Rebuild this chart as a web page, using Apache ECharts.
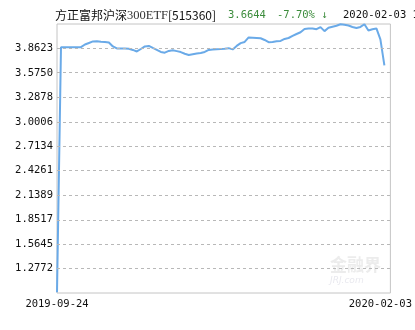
<!DOCTYPE html>
<html><head><meta charset="utf-8">
<script src="https://cdn.jsdelivr.net/npm/echarts@6/dist/echarts.min.js"></script>
<style>html,body{margin:0;padding:0;background:#fff}#c{width:415px;height:330px}</style>
</head><body><div id="c"></div>
<script>
const dates = [
'2019-09-24','2019-09-25','2019-09-26','2019-09-27','2019-09-30',
'2019-10-08','2019-10-09','2019-10-10','2019-10-11','2019-10-14','2019-10-15','2019-10-16','2019-10-17','2019-10-18','2019-10-21','2019-10-22','2019-10-23','2019-10-24','2019-10-25','2019-10-28','2019-10-29','2019-10-30','2019-10-31',
'2019-11-01','2019-11-04','2019-11-05','2019-11-06','2019-11-07','2019-11-08','2019-11-11','2019-11-12','2019-11-13','2019-11-14','2019-11-15','2019-11-18','2019-11-19','2019-11-20','2019-11-21','2019-11-22','2019-11-25','2019-11-26','2019-11-27','2019-11-28','2019-11-29',
'2019-12-02','2019-12-03','2019-12-04','2019-12-05','2019-12-06','2019-12-09','2019-12-10','2019-12-11','2019-12-12','2019-12-13','2019-12-16','2019-12-17','2019-12-18','2019-12-19','2019-12-20','2019-12-23','2019-12-24','2019-12-25','2019-12-26','2019-12-27','2019-12-30','2019-12-31',
'2020-01-02','2020-01-03','2020-01-06','2020-01-07','2020-01-08','2020-01-09','2020-01-10','2020-01-13','2020-01-14','2020-01-15','2020-01-16','2020-01-17','2020-01-20','2020-01-21','2020-01-22','2020-01-23',
'2020-02-03'];
const values = [
1.0000,3.877,3.877,3.877,3.877,3.877,3.877,3.909,3.927,3.945,
3.948,3.941,3.939,3.933,3.886,3.862,3.862,3.862,3.859,3.845,
3.827,3.856,3.886,3.892,3.868,3.845,3.821,3.813,3.833,3.840,
3.831,3.820,3.800,3.786,3.795,3.804,3.809,3.821,3.845,3.851,
3.854,3.856,3.859,3.866,3.851,3.892,3.925,3.939,3.992,3.989,
3.986,3.982,3.962,3.936,3.939,3.948,3.951,3.974,3.985,4.009,
4.032,4.053,4.091,4.097,4.096,4.088,4.113,4.066,4.105,4.118,
4.129,4.147,4.140,4.132,4.115,4.102,4.115,4.147,4.074,4.088,
4.097,3.970,3.6644];
const yTicks = [1.2772,1.5645,1.8517,2.1389,2.4261,2.7134,3.0006,3.2878,3.5750,3.8623];
const yMin = 0.99, yMax = 4.1495;
const fundName = '方正富邦沪深', fundCode = '300ETF', fundId = '[515360]';
const lastPrice = '3.6644', changePct = '-7.70% ↓', lastDate = '2020-02-03 1';

const chart = echarts.init(document.getElementById('c'), null, {renderer:'canvas'});
const mono = '"DejaVu Sans Mono", monospace';
chart.setOption({
  animation:false,
  grid:{left:57, right:23, top:24, bottom:37, show:true, borderColor:'#c4c4c4', borderWidth:1},
  xAxis:{type:'value', min:0, max:83.5,
    axisLine:{show:false}, axisTick:{show:false}, splitLine:{show:false},
    axisLabel:{customValues:[0, dates.length-1], color:'#111', fontFamily:mono, fontSize:10.5, margin:6,
      formatter:(v)=> v===0 ? dates[0] : '{r|'+dates[dates.length-1]+'}',
      rich:{r:{fontFamily:mono, fontSize:10.5, color:'#111', padding:[0,8,0,0]}}}
  },
  yAxis:{type:'value', min:yMin, max:yMax,
    axisLine:{show:false}, axisTick:{show:false}, splitLine:{show:false},
    axisLabel:{customValues:yTicks, color:'#111', fontFamily:mono, fontSize:10.5, margin:4,
      formatter:(v)=>v.toFixed(4)}
  },
  series:[{type:'line', data:values.map((v,i)=>[i,v]), showSymbol:false, symbol:'none',
    lineStyle:{color:'#6aaae8', width:2}, itemStyle:{color:'#6aaae8'}, z:3,
    markLine:{silent:true, symbol:'none', label:{show:false}, animation:false,
      lineStyle:{color:'#b8b8b8', type:[3,3], width:1},
      data:yTicks.map(v=>({yAxis:v}))}}],
  graphic:[
    {type:'text', left:55, top:9, style:{
      text:'{a|'+fundName+'}{b|'+fundCode+'}{a|'+fundId+'}',
      rich:{a:{fontFamily:'"Noto Sans CJK SC", sans-serif', fontSize:12, fill:'#111'},
            b:{fontFamily:'"Liberation Serif", serif', fontSize:12.5, fill:'#333'}}}},
    {type:'text', left:228, top:10, style:{text:lastPrice, fontFamily:mono, fontSize:10.5, fill:'#3c8c3c'}},
    {type:'text', left:277, top:10, style:{text:changePct, fontFamily:mono, fontSize:10.5, fill:'#3c8c3c'}},
    {type:'text', left:343, top:10, style:{text:lastDate, fontFamily:mono, fontSize:10.5, fill:'#111'}},
    {type:'text', left:330, top:256, style:{text:'金融界', fontFamily:'"Noto Sans CJK SC", sans-serif', fontSize:17, fontWeight:'bold', fill:'rgba(180,180,180,0.25)'}},
    {type:'text', left:330, top:276, style:{text:'JRJ.com', fontFamily:'"DejaVu Sans", sans-serif', fontSize:9, fontStyle:'italic', fill:'rgba(180,180,200,0.3)'}}
  ]
});
</script></body></html>
